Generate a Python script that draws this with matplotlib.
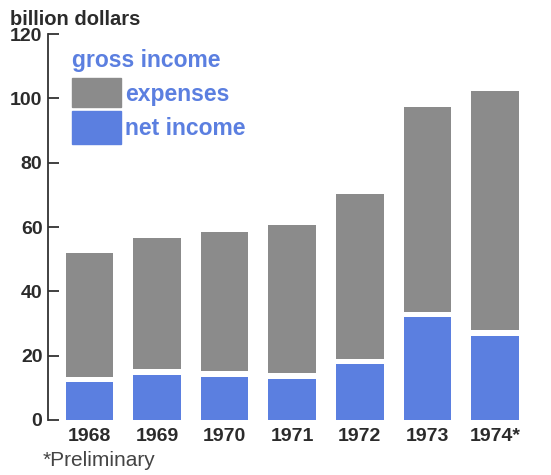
import matplotlib.pyplot as plt
from matplotlib.patches import Rectangle

years = ['1968', '1969', '1970', '1971', '1972', '1973', '1974*']
net_income = [11.7, 14.0, 13.5, 12.8, 17.3, 31.9, 26.2]
gross_income = [51.8, 56.5, 58.4, 60.6, 70.2, 97.5, 102.3]
y_ticks = [0, 20, 40, 60, 80, 100, 120]

BLUE = '#5b7fe0'
GRAY = '#8b8b8b'
TEXT = '#2b2b2b'
GAP = 1.7  # white band between the two parts of a bar

plt.rcParams['font.family'] = ['Liberation Sans', 'DejaVu Sans']

fig = plt.figure(figsize=(5.51, 4.75), dpi=100)
ax = fig.add_axes([0.087, 0.116, 0.913, 0.812])

x = list(range(len(years)))
width = 0.705
ax.bar(x, net_income, width=width, color=BLUE)
expense_bottom = [n + GAP for n in net_income]
expense_height = [g - b for g, b in zip(gross_income, expense_bottom)]
ax.bar(x, expense_height, bottom=expense_bottom, width=width, color=GRAY)

ax.set_xlim(-0.614, 6.83)
ax.set_ylim(0, 120)
ax.set_yticks(y_ticks)
ax.set_xticks(x)
ax.set_xticklabels(years)
for side in ['top', 'right', 'bottom']:
    ax.spines[side].set_visible(False)
ax.spines['left'].set_color('#333333')
ax.spines['left'].set_linewidth(1.3)
ax.tick_params(axis='y', direction='in', length=8, width=1.3, color='#333333',
               labelsize=14, labelcolor=TEXT, pad=4)
ax.tick_params(axis='x', length=0, labelsize=14, labelcolor=TEXT, pad=6)
for lab in ax.get_xticklabels() + ax.get_yticklabels():
    lab.set_fontweight('bold')

fig.text(0.018, 0.948, 'billion dollars', fontsize=14.5, fontweight='bold',
         color=TEXT, va='baseline')
fig.text(0.078, 0.01, '*Preliminary', fontsize=15, color='#444444', va='bottom')

# legend drawn by hand, as in the original
fig.text(0.131, 0.872, 'gross income', fontsize=16.5, fontweight='bold',
         color=BLUE, va='center')
fig.patches.append(Rectangle((0.131, 0.775), 0.089, 0.061, color=GRAY,
                             transform=fig.transFigure, figure=fig))
fig.patches.append(Rectangle((0.131, 0.697), 0.089, 0.070, color=BLUE,
                             transform=fig.transFigure, figure=fig))
fig.text(0.227, 0.802, 'expenses', fontsize=16.5, fontweight='bold',
         color=BLUE, va='center')
fig.text(0.227, 0.730, 'net income', fontsize=16.5, fontweight='bold',
         color=BLUE, va='center')

fig.savefig('out.png', dpi=100)
